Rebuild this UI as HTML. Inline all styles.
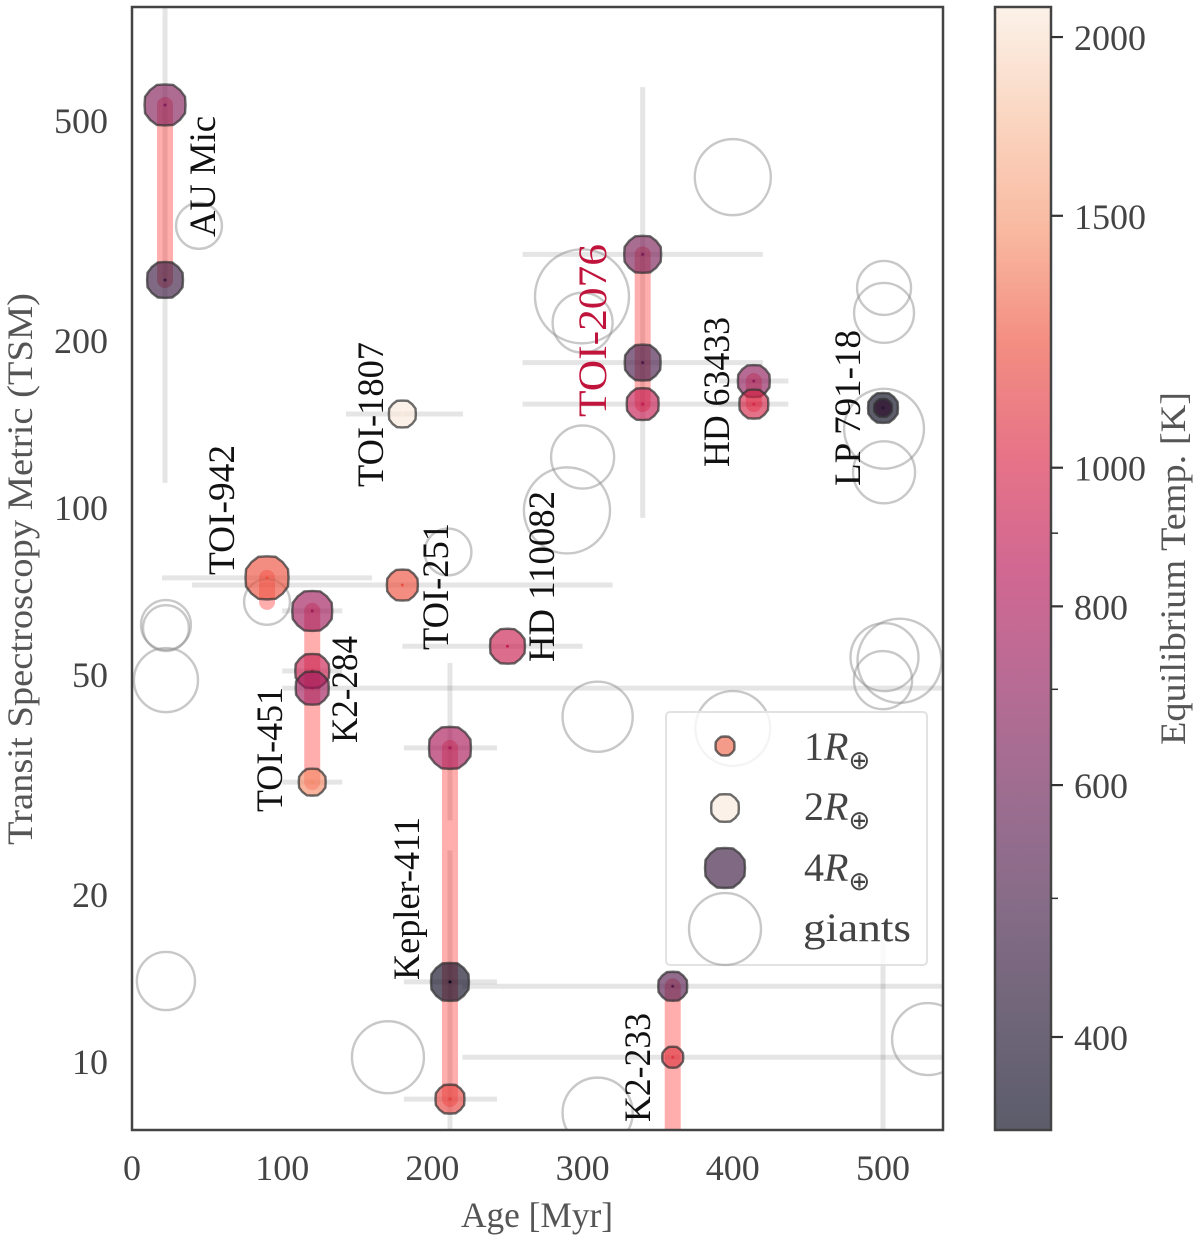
<!DOCTYPE html>
<html lang="en">
<head>
<meta charset="utf-8">
<title>Transit Spectroscopy Metric vs Age</title>
<style>
html,body{margin:0;padding:0;background:#fff;width:1200px;height:1241px;overflow:hidden;}
svg{display:block;overflow:hidden;}
text{font-family:"Liberation Serif","DejaVu Serif",serif;}
.tick{font-size:36px;fill:#444;}
.title{font-size:36px;fill:#555;}
.lab{font-size:37px;fill:#111;}
.leg{font-size:40px;fill:#444;}
</style>
</head>
<body>
<svg id="chart" xmlns="http://www.w3.org/2000/svg" width="1200" height="1241" viewBox="0 0 1200 1241">
  <defs>
    <clipPath id="plot-clip"><rect x="132" y="7" width="811" height="1123"/></clipPath>
    <linearGradient id="cbar-gradient" x1="0" y1="1" x2="0" y2="0"></linearGradient>
  </defs>
  <rect x="0" y="0" width="1200" height="1241" fill="#fff"/>
  <g id="plot-layer" clip-path="url(#plot-clip)">
    <g id="error-bars"></g>
    <g id="system-bars"></g>
    <g id="giants"></g>
    <g id="planets"></g>
  </g>

  <g>
    <text class="lab" transform="translate(215,237) rotate(-90)" textLength="121" lengthAdjust="spacingAndGlyphs">AU Mic</text>
    <text class="lab" transform="translate(383,487) rotate(-90)" textLength="145" lengthAdjust="spacingAndGlyphs">TOI-1807</text>
    <text class="lab" transform="translate(234,575) rotate(-90)" textLength="130" lengthAdjust="spacingAndGlyphs">TOI-942</text>
    <text class="lab" transform="translate(448,650) rotate(-90)" textLength="127" lengthAdjust="spacingAndGlyphs">TOI-251</text>
    <text class="lab" transform="translate(554,662) rotate(-90)" textLength="171" lengthAdjust="spacingAndGlyphs">HD 110082</text>
    <text class="lab" transform="translate(606,417) rotate(-90)" textLength="173" lengthAdjust="spacingAndGlyphs" style="font-size:40px;fill:#c0143c">TOI-2076</text>
    <text class="lab" transform="translate(729,467) rotate(-90)" textLength="150" lengthAdjust="spacingAndGlyphs">HD 63433</text>
    <text class="lab" transform="translate(860,486) rotate(-90)" textLength="156" lengthAdjust="spacingAndGlyphs">LP 791-18</text>
    <text class="lab" transform="translate(282,812) rotate(-90)" textLength="125" lengthAdjust="spacingAndGlyphs">TOI-451</text>
    <text class="lab" transform="translate(357,743) rotate(-90)" textLength="107" lengthAdjust="spacingAndGlyphs">K2-284</text>
    <text class="lab" transform="translate(419,980) rotate(-90)" textLength="163" lengthAdjust="spacingAndGlyphs">Kepler-411</text>
    <text class="lab" transform="translate(650,1122) rotate(-90)" textLength="109" lengthAdjust="spacingAndGlyphs">K2-233</text>
  </g>

  <g id="legend">
    <rect x="666" y="712" width="261" height="253" rx="4" fill="#fff" fill-opacity="0.8" stroke="#e2e2e2" stroke-width="2"/>
    <g id="legend-markers"></g>
    <text class="leg" x="804" y="760">1<tspan font-style="italic">R</tspan><tspan dy="9" style="font-size:26px;font-family:'DejaVu Sans',sans-serif">⊕</tspan></text>
    <text class="leg" x="804" y="820">2<tspan font-style="italic">R</tspan><tspan dy="9" style="font-size:26px;font-family:'DejaVu Sans',sans-serif">⊕</tspan></text>
    <text class="leg" x="804" y="881">4<tspan font-style="italic">R</tspan><tspan dy="9" style="font-size:26px;font-family:'DejaVu Sans',sans-serif">⊕</tspan></text>
    <text class="leg" x="803" y="941" textLength="108" lengthAdjust="spacingAndGlyphs">giants</text>
  </g>

  <rect x="132" y="7" width="811" height="1123" fill="none" stroke="#444" stroke-width="2.5"/>
  <g id="x-ticks"></g>
  <g id="y-ticks"></g>
  <text class="title" x="461" y="1227" textLength="152" lengthAdjust="spacingAndGlyphs">Age [Myr]</text>
  <text class="title" transform="translate(32,845) rotate(-90)" textLength="552" lengthAdjust="spacingAndGlyphs">Transit Spectroscopy Metric (TSM)</text>

  <g id="colorbar">
    <rect x="995" y="7" width="56" height="1123" fill="url(#cbar-gradient)" opacity="0.65"/>
    <rect x="995" y="7" width="56" height="1123" fill="none" stroke="#444" stroke-width="2.5"/>
    <g id="cbar-ticks"></g>
  </g>
  <text class="title" transform="translate(1185,745) rotate(-90)" textLength="353" lengthAdjust="spacingAndGlyphs">Equilibrium Temp. [K]</text>
</svg>

<script>
// ----- data -----
const planetSystem = ['AU Mic','AU Mic','TOI-1807','TOI-942','TOI-251','TOI-451','TOI-451','TOI-451','K2-284','Kepler-411','Kepler-411','Kepler-411','K2-233','K2-233','K2-233','TOI-2076','TOI-2076','TOI-2076','HD 63433','HD 63433','HD 110082','LP 791-18','LP 791-18','Unlabeled'];
const planetAge = [22,22,180,89.9,180,120,120,120,120,211.7,211.7,211.7,360,360,360,340,340,340,414,414,250,500,500,500];
const planetTSM = [534,258,147.8,74.8,72.6,65.2,50.8,32,47.3,36.9,13.95,8.57,13.7,10.2,6,287,183,154,169.5,154,56.3,151.6,151.6,5];
const planetRadius = [4.19,3.27,1.9,4.6,2.47,4,2.94,1.9,2.8,4.39,3.63,2.18,2.18,1.2,1.2,3.45,3.27,2.62,2.62,2.18,3.1,2.32,0.9,0.5];
const planetTeq = [660,470,2090,1220,1220,750,930,1430,750,790,370,1150,540,1100,1100,640,500,900,700,1000,930,350,430,800];
const ageLow = [null,null,142.5,20,40,100,100,100,100,181,181,181,220,220,220,260,260,260,391,391,180,null,null,null];
const ageHigh = [null,null,220.4,159.8,320,140,140,140,600,243,243,243,600,600,600,420,420,420,437,437,300,null,null,null];
const tsmLow = [111,null,null,null,null,null,null,null,null,27.3,5,null,null,null,null,96,null,null,null,null,null,null,null,4.8];
const tsmHigh = [820,null,null,null,null,null,null,null,null,52.5,24.1,null,null,null,null,575,null,null,null,null,null,null,null,16.6];

const giantAge = [44.6,400,299.6,300,500.7,500.7,500.7,500.7,300,289.6,210.4,89.9,22.6,22.6,22.6,310,400,501,511,500,22.6,170.4,310,530];
const giantTSM = [323,395.6,241,216,249.6,225,139,116,123.6,99,83.3,67.7,61.5,60.7,48.9,42,40,53.8,53,48.9,14,10.2,8.1,11];
const giantRadius = [5.2,13.8,20.9,8.7,7.1,8.7,15.2,9.3,9.6,17.6,5.4,5.2,6.1,5.2,9.9,11.8,13.4,11.1,16.8,8.2,8.2,12.4,11.8,12.4];
const giantHost = [null,null,null,null,null,null,null,null,null,null,null,'TOI-942',null,null,null,null,null,null,null,null,null,null,null,null];

const xTickLabels = [0,100,200,300,400,500];
const yTickLabels = [10,20,50,100,200,500];
const cbarMajorTicks = [400,600,800,1000,1500,2000];
const cbarMinorTicks = [500,700,900];
const cmapStops = ['#03051a','#221331','#451c47','#691f55','#921c5b','#b91657','#d92847','#ed503e','#f6936d','#f7bf9f','#faebdd'];

const legendRadius = [1,2,4,12.4];
const legendTeq = [1290,2090,470,null];

// ----- scales -----
const xScale = a => 132 + a * 1.502;
const yScale = t => 1062 - (Math.log10(t) - 1) * 554;
const cbarScale = t => 1037 - Math.log10(t / 400) * 1430.6;
const radiusPx = r => 10.5 * Math.sqrt(r);
const cPos = t => (1130 - cbarScale(t)) / 1123;

function hexRgb(h){return [1,3,5].map(i => parseInt(h.substr(i,2),16));}
function cmap(t){
  const p = Math.max(0, Math.min(1, cPos(t))) * (cmapStops.length - 1);
  const i = Math.min(Math.floor(p), cmapStops.length - 2);
  const f = p - i, a = hexRgb(cmapStops[i]), b = hexRgb(cmapStops[i + 1]);
  return 'rgb(' + a.map((v, k) => Math.round(v + (b[k] - v) * f)).join(',') + ')';
}
const NS = 'http://www.w3.org/2000/svg';
function mk(tag, parent, attrs){
  const e = document.createElementNS(NS, tag);
  for (const k in attrs) e.setAttribute(k, attrs[k]);
  parent.appendChild(e);
  return e;
}
function octagon(cx, cy, r){
  const pts = [];
  for (let k = 0; k < 16; k++){
    const ang = k * Math.PI / 8;
    let R;
    if (k % 4 === 0) R = r;
    else if (k % 2 === 1) R = r * 1.055;
    else R = r * 1.03;
    pts.push((cx + R * Math.cos(ang)).toFixed(2) + ',' + (cy + R * Math.sin(ang)).toFixed(2));
  }
  return pts.join(' ');
}

// colorbar gradient
const grad = document.getElementById('cbar-gradient');
cmapStops.forEach((c, i) => {
  mk('stop', grad, {offset: (i / (cmapStops.length - 1)), 'stop-color': c});
});

// error bars
const errG = document.getElementById('error-bars');
planetAge.forEach((a, i) => {
  if (ageLow[i] !== null) {
    const l = mk('line', errG, {x1: xScale(ageLow[i]), x2: xScale(ageHigh[i]), y1: yScale(planetTSM[i]), y2: yScale(planetTSM[i]), stroke: '#000', 'stroke-opacity': 0.1, 'stroke-width': 5});
    
    
  }
  if (tsmLow[i] !== null) {
    const l = mk('line', errG, {x1: xScale(a), x2: xScale(a), y1: yScale(tsmLow[i]), y2: yScale(tsmHigh[i]), stroke: '#000', 'stroke-opacity': 0.1, 'stroke-width': 5});
    
    
  }
});

// system connector bars
const barG = document.getElementById('system-bars');
const systems = [...new Set(planetSystem)];
systems.forEach(name => {
  const vals = [], ages = [];
  planetSystem.forEach((s, i) => { if (s === name) { vals.push(planetTSM[i]); ages.push(planetAge[i]); } });
  giantHost.forEach((s, i) => { if (s === name) { vals.push(giantTSM[i]); ages.push(giantAge[i]); } });
  if (vals.length < 2) return;
  const l = mk('line', barG, {x1: xScale(ages[0]), x2: xScale(ages[0]), y1: yScale(Math.max(...vals)), y2: yScale(Math.min(...vals)), stroke: '#ff0000', 'stroke-opacity': 0.32, 'stroke-width': 16, 'stroke-linecap': 'round'});
  
  
});

// giants
const giantG = document.getElementById('giants');
giantAge.forEach((a, i) => {
  const c = mk('circle', giantG, {cx: xScale(a), cy: yScale(giantTSM[i]), r: radiusPx(giantRadius[i]) - 1, fill: 'none', stroke: '#8c8c8c', 'stroke-opacity': 0.48, 'stroke-width': 2.4});
  
  
});

// planets
const planetG = document.getElementById('planets');
planetAge.forEach((a, i) => {
  const cx = xScale(a), cy = yScale(planetTSM[i]);
  const p = mk('polygon', planetG, {points: octagon(cx, cy, radiusPx(planetRadius[i]) - 1), fill: cmap(planetTeq[i]), 'fill-opacity': 0.65, stroke: '#333', 'stroke-opacity': 0.72, 'stroke-width': 2.4, 'stroke-linejoin': 'round'});
  
  
  const d = mk('circle', planetG, {cx: cx, cy: cy, r: 1.5, fill: cmap(planetTeq[i])});
  
  
});

// legend markers
const legG = document.getElementById('legend-markers');
const legendY = [746, 808, 868, 929];
legendRadius.forEach((r, i) => {
  if (legendTeq[i] === null) {
    const c = mk('circle', legG, {cx: 725, cy: legendY[i], r: radiusPx(r) - 1, fill: 'none', stroke: '#8c8c8c', 'stroke-opacity': 0.48, 'stroke-width': 2.4});
    
    
  } else {
    const p = mk('polygon', legG, {points: octagon(725, legendY[i], radiusPx(r) - 1), fill: cmap(legendTeq[i]), 'fill-opacity': 0.65, stroke: '#333', 'stroke-opacity': 0.72, 'stroke-width': 2.4, 'stroke-linejoin': 'round'});
    
    
  }
});

// axis labels
const xG = document.getElementById('x-ticks');
xTickLabels.forEach(v => {
  const t = mk('text', xG, {class: 'tick', x: xScale(v), y: 1180, 'text-anchor': 'middle'});
  t.textContent = v;
  
  
});
const yG = document.getElementById('y-ticks');
yTickLabels.forEach(v => {
  const t = mk('text', yG, {class: 'tick', x: 108, y: yScale(v) + 12, 'text-anchor': 'end'});
  t.textContent = v;
  
  
});

// colorbar ticks
const cG = document.getElementById('cbar-ticks');
cbarMajorTicks.forEach(v => {
  const y = cbarScale(v);
  const l = mk('line', cG, {x1: 1051, x2: 1063, y1: y, y2: y, stroke: '#333', 'stroke-width': 2.2});
  
  
  const t = mk('text', cG, {class: 'tick', x: 1074, y: y + 13});
  t.textContent = v;
  
  
});
cbarMinorTicks.forEach(v => {
  const y = cbarScale(v);
  const l = mk('line', cG, {x1: 1051, x2: 1058, y1: y, y2: y, stroke: '#333', 'stroke-width': 1.5});
  
  
});
</script>
</body>
</html>
